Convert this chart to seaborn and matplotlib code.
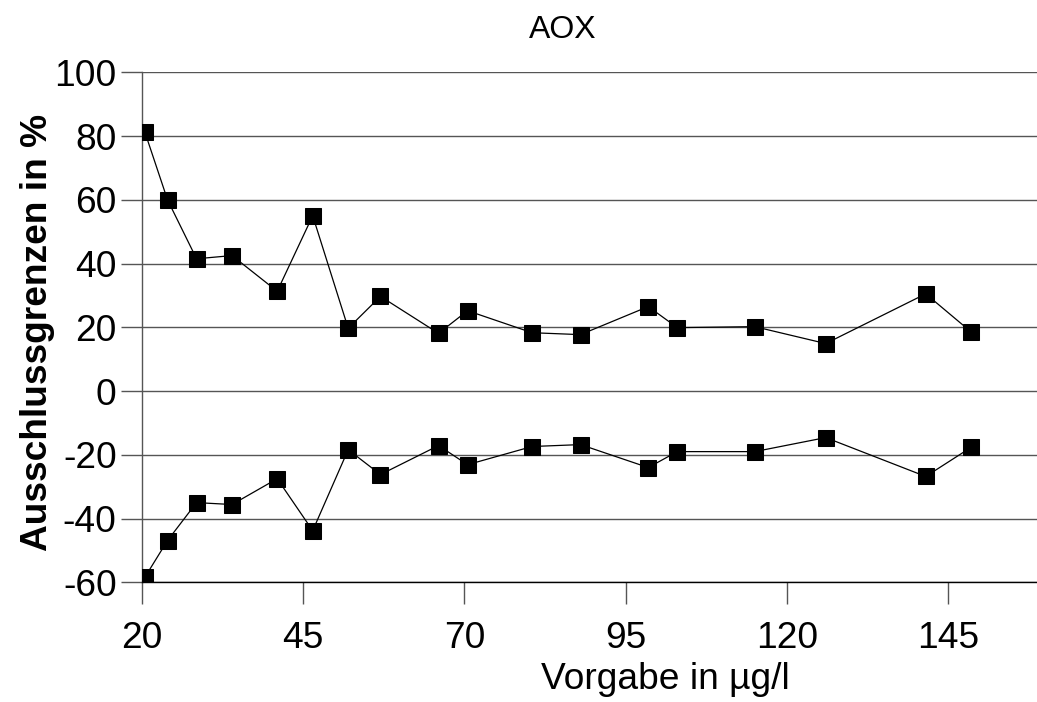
import matplotlib
matplotlib.use("Agg")
import matplotlib.pyplot as plt
import seaborn as sns
import pandas as pd

# Data
vorgabe = [20.5, 24, 28.5, 34, 41, 46.5, 52, 57, 66, 70.5, 80.5, 88, 98.5, 103, 115, 126, 141.5, 148.5]
obere_grenze = [81.2, 60.0, 41.5, 42.5, 31.3, 55.0, 19.7, 29.7, 18.1, 25.2, 18.3, 17.7, 26.5, 19.9, 20.2, 14.9, 30.5, 18.6]
untere_grenze = [-58.4, -46.9, -35.0, -35.6, -27.5, -43.8, -18.4, -26.2, -17.1, -23.1, -17.4, -16.8, -24.0, -19.0, -19.0, -14.6, -26.8, -17.7]
x_ticks = [20, 45, 70, 95, 120, 145]
y_ticks = [100, 80, 60, 40, 20, 0, -20, -40, -60]

title = "AOX"
x_label = "Vorgabe in µg/l"
y_label = "Ausschlussgrenzen in %"

sns.set_style("white")
plt.rcParams["font.family"] = ["Liberation Sans", "DejaVu Sans"]
plt.rcParams["text.color"] = "black"
plt.rcParams["axes.labelcolor"] = "black"
plt.rcParams["xtick.labelcolor"] = "black"
plt.rcParams["ytick.labelcolor"] = "black"

W, H = 1037, 702
fig = plt.figure(figsize=(W / 100, H / 100), dpi=100)
ax_left, ax_right, ax_top, ax_bottom = 141.7, 1037.0, 72.3, 582.3
ax = fig.add_axes([ax_left / W, 1 - ax_bottom / H, (ax_right - ax_left) / W, (ax_bottom - ax_top) / H])

df_o = pd.DataFrame({"x": vorgabe, "y": obere_grenze})
df_u = pd.DataFrame({"x": vorgabe, "y": untere_grenze})
for d in (df_o, df_u):
    sns.lineplot(data=d, x="x", y="y", ax=ax, sort=False, color="black",
                 linewidth=0.9, marker="s", markersize=12, markeredgecolor="black",
                 markerfacecolor="black", zorder=3)

ax.set_xlim(20, 20 + (ax_right - ax_left) / 6.453)
ax.set_ylim(-60, 100)
ax.set_xticks(x_ticks)
ax.set_yticks(y_ticks)
ax.set_xticklabels([str(v) for v in x_ticks])
ax.set_yticklabels([str(v) for v in y_ticks])

ax.yaxis.grid(True, color="#555555", linewidth=1.0)
ax.xaxis.grid(False)
ax.set_axisbelow(True)

for s in ("top", "right"):
    ax.spines[s].set_visible(False)
ax.spines["left"].set_color("#555555")
ax.spines["left"].set_linewidth(1.0)
ax.spines["bottom"].set_color("black")
ax.spines["bottom"].set_linewidth(1.0)

ax.tick_params(axis="x", direction="out", length=16, width=1.0, color="#555555",
               labelsize=26.7, labelcolor="black", pad=12, bottom=True)
ax.tick_params(axis="y", direction="out", length=15, width=1.0, color="#555555",
               labelsize=26.7, labelcolor="black", pad=3, left=True)

ax.set_xlabel(x_label, fontsize=26.7)
ax.set_ylabel(y_label, fontsize=26.7, fontweight="bold")
ax.xaxis.set_label_coords((665 - ax_left) / (ax_right - ax_left), (ax_bottom - 662) / (ax_bottom - ax_top))
ax.yaxis.set_label_coords((55 - ax_left) / (ax_right - ax_left), (ax_bottom - 332) / (ax_bottom - ax_top))

fig.text(563 / W, 1 - 30 / H, title, fontsize=23, ha="center", va="center")

fig.savefig("out.png", dpi=100)
